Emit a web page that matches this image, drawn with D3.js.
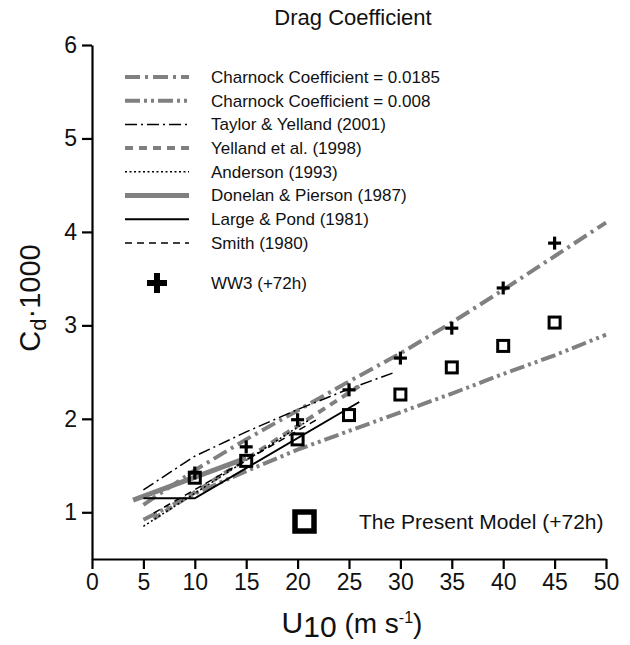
<!DOCTYPE html>
<html>
<head>
<meta charset="utf-8">
<script src="https://cdn.jsdelivr.net/npm/d3@7"></script>
<style>
html,body{margin:0;padding:0;background:#fff;}
svg{display:block;font-family:"Liberation Sans",Arial,sans-serif;}
</style>
</head>
<body>
<svg id="chart" width="630" height="645"></svg>
<script>
// ---- data ----
const xTicks = [0,5,10,15,20,25,30,35,40,45,50];
const yTicks = [1,2,3,4,5,6];

const uCharnock = [5,10,15,20,25,30,35,40,45,50];
const charnock0185 = [1.08,1.45,1.78,2.09,2.40,2.70,3.03,3.38,3.74,4.10];
const charnock008  = [0.92,1.20,1.44,1.67,1.87,2.07,2.27,2.48,2.68,2.90];

const uTaylor = [5,10,15,20,25,29.5];
const taylorYelland = [1.24,1.60,1.86,2.10,2.32,2.50];

const uYelland = [6,26];
const yelland98 = [0.93,2.35];

const uAnderson = [5,21];
const anderson93 = [0.85,1.98];

const uDonelan = [4,15];
const donelan87 = [1.13,1.58];

const uLarge = [5,10,26];
const largePond = [1.15,1.15,2.18];

const uSmith = [6,22];
const smith80 = [0.99,2.00];

const uMarkers = [10,15,20,25,30,35,40,45];
const ww3 = [1.42,1.70,1.99,2.31,2.65,2.97,3.40,3.88];
const presentModel = [1.37,1.55,1.78,2.04,2.26,2.55,2.78,3.03];

const seriesLabels = [
  "Charnock Coefficient = 0.0185",
  "Charnock Coefficient = 0.008",
  "Taylor & Yelland (2001)",
  "Yelland et al. (1998)",
  "Anderson (1993)",
  "Donelan & Pierson (1987)",
  "Large & Pond (1981)",
  "Smith (1980)"
];

// ---- styles ----
const GRAY = "#808080";
const styles = [
  {stroke:GRAY, w:4, dash:"15,5,3,5"},
  {stroke:GRAY, w:4, dash:"15,4,3,4,3,4"},
  {stroke:"#000", w:1.5, dash:"12,4,2,4"},
  {stroke:GRAY, w:4, dash:"8,6"},
  {stroke:"#000", w:1.5, dash:"2,2.5"},
  {stroke:GRAY, w:5, dash:null},
  {stroke:"#000", w:2, dash:null},
  {stroke:"#000", w:1.5, dash:"7,5"}
];
const lineData = [
  [uCharnock, charnock0185],
  [uCharnock, charnock008],
  [uTaylor, taylorYelland],
  [uYelland, yelland98],
  [uAnderson, anderson93],
  [uDonelan, donelan87],
  [uLarge, largePond],
  [uSmith, smith80]
];

const svg = d3.select("#chart");
const x = d3.scaleLinear().domain([0,50]).range([92,606]);
const y = d3.scaleLinear().domain([0.5,6]).range([559,45]);

// axes
const gx = svg.append("g").attr("transform",`translate(0,${y(0.5)})`)
  .call(d3.axisBottom(x).tickValues(xTicks).tickFormat(d3.format("d")).tickSize(10).tickSizeOuter(0).tickPadding(5));
const gy = svg.append("g").attr("transform",`translate(${x(0)},0)`)
  .call(d3.axisLeft(y).tickValues(yTicks).tickFormat(d3.format("d")).tickSize(10).tickSizeOuter(0).tickPadding(5));
[gx,gy].forEach(g=>{
  g.select(".domain").attr("stroke","#000").attr("stroke-width",2.2);
  g.selectAll(".tick line").attr("stroke","#000").attr("stroke-width",2.2);
  g.selectAll(".tick text").attr("fill","#111").attr("font-size",23)
   .attr("font-family","'Liberation Sans',Arial,sans-serif");
});

// lines
const line = d3.line().x(d=>x(d[0])).y(d=>y(d[1]));
lineData.forEach((ld,i)=>{
  const pts = ld[0].map((u,j)=>[u, ld[1][j]]);
  const st = styles[i];
  svg.append("path").datum(pts).attr("d",line)
    .attr("fill","none").attr("stroke",st.stroke).attr("stroke-width",st.w)
    .attr("stroke-dasharray",st.dash);
});

// WW3 markers
function plus(g, cx, cy, s, w){
  g.append("line").attr("x1",cx-s).attr("x2",cx+s).attr("y1",cy).attr("y2",cy)
   .attr("stroke","#000").attr("stroke-width",w);
  g.append("line").attr("x1",cx).attr("x2",cx).attr("y1",cy-s).attr("y2",cy+s)
   .attr("stroke","#000").attr("stroke-width",w);
}
const gm = svg.append("g");
uMarkers.forEach((u,i)=>plus(gm, x(u), y(ww3[i]), 6.5, 3.2));
uMarkers.forEach((u,i)=>{
  gm.append("rect").attr("x",x(u)-5.5).attr("y",y(presentModel[i])-5.5)
    .attr("width",11).attr("height",11).attr("fill","none")
    .attr("stroke","#000").attr("stroke-width",3);
});

// legend
const lg = svg.append("g");
const rowY = [77,100.7,124.4,148.1,171.8,195.5,219.2,242.9];
seriesLabels.forEach((lab,i)=>{
  const st = styles[i];
  lg.append("line").attr("x1",125).attr("x2",189).attr("y1",rowY[i]).attr("y2",rowY[i])
    .attr("stroke",st.stroke).attr("stroke-width",st.w).attr("stroke-dasharray",st.dash);
  lg.append("text").attr("x",211).attr("y",rowY[i]).attr("dy","0.35em")
    .attr("font-size",17).attr("fill","#111").text(lab);
});
plus(lg, 157, 283, 10, 6);
lg.append("text").attr("x",211).attr("y",283).attr("dy","0.35em")
  .attr("font-size",17).attr("fill","#111").text("WW3 (+72h)");

// present model legend
lg.append("rect").attr("x",295).attr("y",512).attr("width",19).attr("height",19)
  .attr("fill","none").attr("stroke","#000").attr("stroke-width",5.5);
lg.append("text").attr("x",359).attr("y",521.5).attr("dy","0.35em")
  .attr("font-size",21).attr("fill","#111").text("The Present Model (+72h)");

// title
svg.append("text").attr("x",353).attr("y",25).attr("text-anchor","middle")
  .attr("font-size",22).attr("fill","#111").text("Drag Coefficient");

// x axis title
const xt = svg.append("text").attr("x",352).attr("y",633).attr("text-anchor","middle").attr("fill","#111");
xt.append("tspan").attr("font-size",30).text("U");
xt.append("tspan").attr("font-size",30).attr("dy",4).text("10");
xt.append("tspan").attr("font-size",28).attr("dy",-4).text(" (m s");
xt.append("tspan").attr("font-size",16).attr("dy",-10).text("-1");
xt.append("tspan").attr("font-size",28).attr("dy",10).text(")");

// y axis title
const yt = svg.append("text").attr("transform","translate(40,298) rotate(-90)")
  .attr("text-anchor","middle").attr("fill","#111");
yt.append("tspan").attr("font-size",29).text("C");
yt.append("tspan").attr("font-size",22).attr("dy",6).text("d");
yt.append("tspan").attr("font-size",29).attr("dy",-6).text("·1000");
</script>
</body>
</html>
